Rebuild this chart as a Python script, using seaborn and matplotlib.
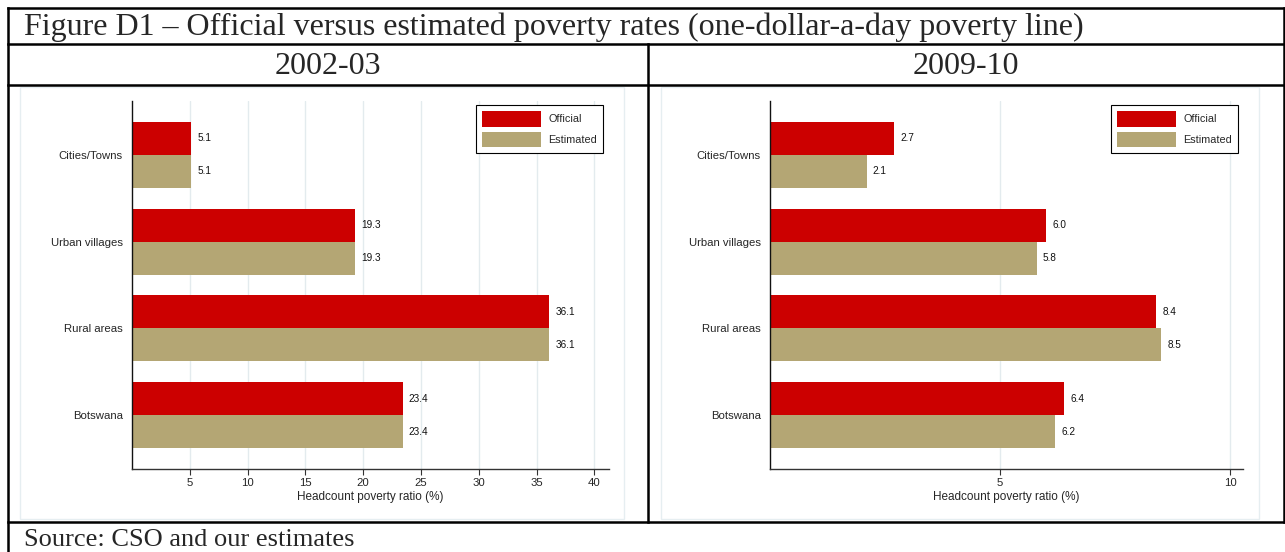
import matplotlib
matplotlib.use("Agg")
import matplotlib.pyplot as plt
from matplotlib.lines import Line2D
from matplotlib.patches import Rectangle
import pandas as pd
import seaborn as sns

# ---- data ---------------------------------------------------------------
areas = ["Cities/Towns", "Urban villages", "Rural areas", "Botswana"]
series_names = ["Official", "Estimated"]
official_0203 = [5.1, 19.3, 36.1, 23.4]
estimated_0203 = [5.1, 19.3, 36.1, 23.4]
official_0910 = [2.7, 6.0, 8.4, 6.4]
estimated_0910 = [2.1, 5.8, 8.5, 6.2]
ticks_0203 = [5, 10, 15, 20, 25, 30, 35, 40]
ticks_0910 = [5, 10]
panel_titles = ["2002-03", "2009-10"]
figure_title = ("Figure D1 \u2013 Official versus estimated poverty rates "
                "(one-dollar-a-day poverty line)")
source_note = "Source: CSO and our estimates"
x_label = "Headcount poverty ratio (%)"

RED = "#cc0000"
TAN = "#b4a674"
GRID = "#e3ebee"
PANEL_EDGE = "#e6eef1"

W, H = 1285, 552
sns.set_style("white")
plt.rcParams["font.family"] = ["Liberation Sans", "DejaVu Sans"]

fig = plt.figure(figsize=(W / 100, H / 100), dpi=100)


def fx(x):
    return x / W


def fy(y):
    return 1 - y / H


def hline(y, x0, x1, lw=1.8):
    fig.add_artist(Line2D([fx(x0), fx(x1)], [fy(y), fy(y)], color="black",
                          lw=lw, transform=fig.transFigure, solid_capstyle="projecting"))


def vline(x, y0, y1, lw=1.8):
    fig.add_artist(Line2D([fx(x), fx(x)], [fy(y0), fy(y1)], color="black",
                          lw=lw, transform=fig.transFigure, solid_capstyle="projecting"))


# ---- table frame --------------------------------------------------------
hline(8, 8, 1284)
hline(44, 8, 1284)
hline(85, 8, 1284)
hline(522, 8, 1284)
vline(8, 8, 552)
vline(1284, 8, 522)
vline(648, 44, 522)

serif = ["Liberation Serif", "DejaVu Serif"]
fig.text(fx(24), fy(27), figure_title, family=serif,
         fontsize=23, ha="left", va="center")
fig.text(fx(328), fy(66), panel_titles[0], family=serif,
         fontsize=23, ha="center", va="center")
fig.text(fx(966), fy(66), panel_titles[1], family=serif,
         fontsize=23, ha="center", va="center")
fig.text(fx(24), fy(540), source_note, family=serif,
         fontsize=19, ha="left", va="center")

# chart backgrounds
for x0, x1 in [(20, 624), (661, 1259)]:
    fig.add_artist(Rectangle((fx(x0), fy(519)), fx(x1) - fx(x0), fy(87) - fy(519),
                             transform=fig.transFigure, facecolor="white",
                             edgecolor=PANEL_EDGE, lw=1, zorder=0))


def draw_panel(rect, official, estimated, ticks, xmax, legend_xy):
    left, top, right, bottom = rect
    ax = fig.add_axes([fx(left), fy(bottom), fx(right) - fx(left), fy(top) - fy(bottom)])
    ax.set_facecolor("none")
    df = pd.DataFrame({
        "area": areas * 2,
        "rate": official + estimated,
        "series": [series_names[0]] * len(areas) + [series_names[1]] * len(areas),
    })
    sns.barplot(data=df, x="rate", y="area", hue="series", orient="h",
                palette=[RED, TAN], width=0.76, saturation=1, errorbar=None,
                linewidth=0, ax=ax)
    for c in ax.containers:
        ax.bar_label(c, fmt="%.1f", padding=4.5, fontsize=7.2, color="#111111")
    ax.set_xlim(0, xmax)
    ax.set_ylim(3.62, -0.62)
    ax.set_xticks(ticks)
    ax.set_xticklabels([str(t) for t in ticks])
    ax.xaxis.grid(True, color=GRID, lw=1)
    ax.yaxis.grid(False)
    ax.set_axisbelow(True)
    for s in ("top", "right"):
        ax.spines[s].set_visible(False)
    ax.spines["left"].set_color("#111111")
    ax.spines["left"].set_linewidth(1.0)
    ax.spines["bottom"].set_color("#333333")
    ax.spines["bottom"].set_linewidth(1.0)
    ax.tick_params(axis="x", length=4, width=0.8, color="#333333",
                   labelsize=8.2, pad=2.5, bottom=True)
    ax.tick_params(axis="y", length=0, labelsize=8.2, pad=6.5)
    ax.set_xlabel(x_label, fontsize=8.5, labelpad=2)
    ax.set_ylabel("")
    handles, labels = ax.get_legend_handles_labels()
    leg = ax.legend(handles, labels, loc="upper right",
                    bbox_to_anchor=(fx(legend_xy[0]), fy(legend_xy[1])),
                    bbox_transform=fig.transFigure, frameon=True, fancybox=False,
                    edgecolor="black", framealpha=1, fontsize=7.8,
                    handlelength=5.4, handleheight=1.85, labelspacing=0.45,
                    handletextpad=0.7, borderpad=0.55, borderaxespad=0)
    leg.get_frame().set_linewidth(0.8)
    return ax


draw_panel((132, 101, 609, 469), official_0203, estimated_0203, ticks_0203,
           477 / 11.56, (603, 105))
draw_panel((770, 101, 1243, 469), official_0910, estimated_0910, ticks_0910,
           473 / 46.0, (1238, 105))

fig.savefig("out.png", dpi=100)
